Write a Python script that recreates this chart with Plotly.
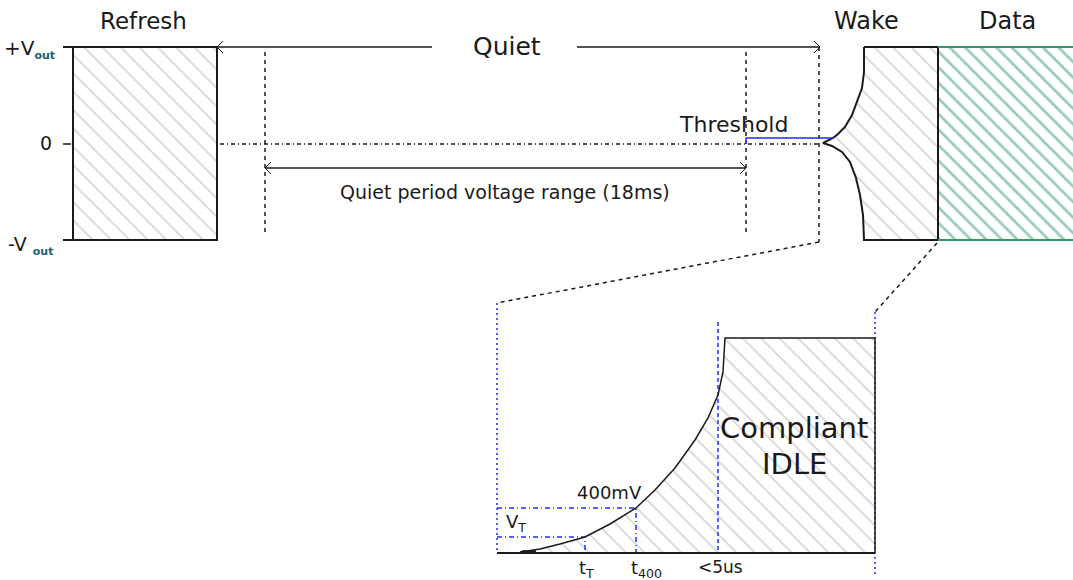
import plotly.graph_objects as go

W, H = 1073, 580
FONT = "DejaVu Sans, Verdana, sans-serif"
INK = "#1a1a1a"
BLUE = "#1f2fff"
GREEN = "#2f9865"
HATCH = "#a8a8a8"

# ---- upper waveform geometry (pixel space) ----
refresh_x = [73, 217, 217, 73, 73]
refresh_y = [47, 47, 240, 240, 47]

wake_x = [864, 938, 938, 864, 863, 860, 856, 850, 842, 832, 823, 833, 838, 845, 852, 858, 862, 864, 864]
wake_y = [47, 47, 240, 240, 215, 195, 178, 162, 152, 146, 143, 138, 134, 127, 115, 100, 88, 72, 47]

data_x = [938, 1075, 1075, 938, 938]
data_y = [47, 47, 240, 240, 47]

# ---- lower zoomed waveform ----
curve_x = [520, 540, 560, 585, 610, 636, 655, 675, 695, 708, 718, 721, 723, 725]
curve_y = [552, 549, 544, 537, 524, 508, 490, 468, 440, 418, 395, 380, 372, 338]
idle_x = [725, 875, 875]
idle_y = [338, 338, 553]

fig = go.Figure()

def line(x, y, color=INK, width=1.5, dash="solid"):
    fig.add_trace(go.Scatter(x=x, y=y, mode="lines", hoverinfo="skip",
                             line=dict(color=color, width=width, dash=dash)))

def hatch(x, y, color, size, solid):
    fig.add_trace(go.Scatter(x=x, y=y, mode="lines", fill="toself", hoverinfo="skip",
                             fillcolor="rgba(255,255,255,0)",
                             line=dict(width=0, color="rgba(0,0,0,0)"),
                             fillpattern=dict(shape="\\", fgcolor=color, bgcolor="white",
                                              size=size, solidity=solid)))

def chevron(tx, ty, direction, s=6):
    d = -1 if direction == "left" else 1
    line([tx - d * s, tx, tx - d * s], [ty - s, ty, ty + s], width=1)

# hatched fills
hatch(refresh_x, refresh_y, HATCH, 13, 0.12)
hatch(wake_x, wake_y, HATCH, 13, 0.12)
hatch(data_x, data_y, GREEN, 11, 0.24)
hatch(curve_x + idle_x + [520], curve_y + idle_y + [553], HATCH, 13, 0.12)

# outlines
line(refresh_x, refresh_y, width=2)
line(wake_x, wake_y, width=2)
line([938, 1075], [47, 47], color=GREEN, width=2)
line([938, 1075], [240, 240], color=GREEN, width=2)

# Quiet arrow line
line([217, 432], [47, 47], width=1.5)
line([577, 820], [47, 47], width=1.5)
chevron(217, 47, "left")
chevron(820, 47, "right")

# zero reference (dash-dot)
line([220, 820], [144, 144], width=1.5, dash="4px,3px,1px,3px")
# y-axis ticks
line([63, 71], [144, 144], width=1.5)
line([63, 73], [47, 47], width=2)
line([63, 73], [240, 240], width=2)

# vertical dotted markers
line([265, 265], [52, 236], width=1.5, dash="4px,4px")
line([746, 746], [52, 236], width=1.5, dash="4px,4px")
line([819, 819], [47, 242], width=1.5, dash="4px,4px")

# quiet period double arrow
line([265, 746], [168, 168], width=1.5)
chevron(265, 168, "left")
chevron(746, 168, "right")

# threshold
line([746, 746, 833], [144, 138, 138], color=BLUE, width=1.5)

# zoom connector lines
line([819, 497], [242, 303], width=1.5, dash="4px,4px")
line([937, 875], [243, 312], width=1.5, dash="4px,4px")

# lower panel blue markers
line([497, 497], [303, 553], color=BLUE, width=1.5, dash="2px,3px")
line([718, 718], [322, 553], color=BLUE, width=1.5, dash="4px,3px")
line([875, 875], [312, 576], color=BLUE, width=1.5, dash="2px,3px")
line([497, 585, 585], [537, 537, 553], color=BLUE, width=1.5, dash="5px,3px,1px,3px")
line([497, 636, 636], [508, 508, 553], color=BLUE, width=1.5, dash="5px,3px,1px,3px")

# lower curve + idle box + baseline
line(curve_x + idle_x, curve_y + idle_y, width=1.5)
line([497, 875], [553, 553], width=2)
line([522, 536], [552, 552], width=3.5)

# ---- text ----
texts = [
    ("Refresh", 143, 21, 23),
    ("Quiet", 507, 46, 25),
    ("Wake", 866, 21, 24),
    ("Data", 1007, 21, 24),
    ("Threshold", 733, 124, 22),
    ("Quiet period voltage range (18ms)", 505, 192, 19),
    ("400mV", 609, 492, 18),
    ("Compliant", 794, 428, 29),
    ("IDLE", 794, 464, 29),
    ("0", 46, 143, 19),
    ("<5us", 720, 567, 17),
]
for t, x, y, s in texts:
    fig.add_annotation(x=x, y=y, text=t, showarrow=False, xanchor="center", yanchor="middle",
                       font=dict(family=FONT, size=s, color=INK))

sub = "<span style='font-size:11px;color:#1e5f6a'><b>out</b></span>"
fig.add_annotation(x=2, y=49, text="+V<sub>" + sub + "</sub>", showarrow=False, xanchor="left",
                   yanchor="middle", font=dict(family=FONT, size=20, color=INK))
fig.add_annotation(x=6, y=245, text="-V <sub>" + sub + "</sub>", showarrow=False, xanchor="left",
                   yanchor="middle", font=dict(family=FONT, size=19, color=INK))
fig.add_annotation(x=504, y=523, text="V<sub>T</sub>", showarrow=False, xanchor="left",
                   yanchor="middle", font=dict(family=FONT, size=18, color=INK))
fig.add_annotation(x=586, y=569, text="t<sub>T</sub>", showarrow=False, xanchor="center",
                   yanchor="middle", font=dict(family=FONT, size=18, color=INK))
fig.add_annotation(x=646, y=569, text="t<sub>400</sub>", showarrow=False, xanchor="center",
                   yanchor="middle", font=dict(family=FONT, size=18, color=INK))

fig.update_layout(
    width=W, height=H, margin=dict(l=0, r=0, t=0, b=0),
    paper_bgcolor="white", plot_bgcolor="white", showlegend=False,
    xaxis=dict(range=[0, W], visible=False, fixedrange=True),
    yaxis=dict(range=[H, 0], visible=False, fixedrange=True),
)
fig.write_html("out.html", config={"displayModeBar": False})

with open("out.html", "r", encoding="utf-8") as f:
    html = f.read()
html = html.replace("<head>", "<head><style>html,body{margin:0;padding:0;overflow:hidden}</style>", 1)
with open("out.html", "w", encoding="utf-8") as f:
    f.write(html)
